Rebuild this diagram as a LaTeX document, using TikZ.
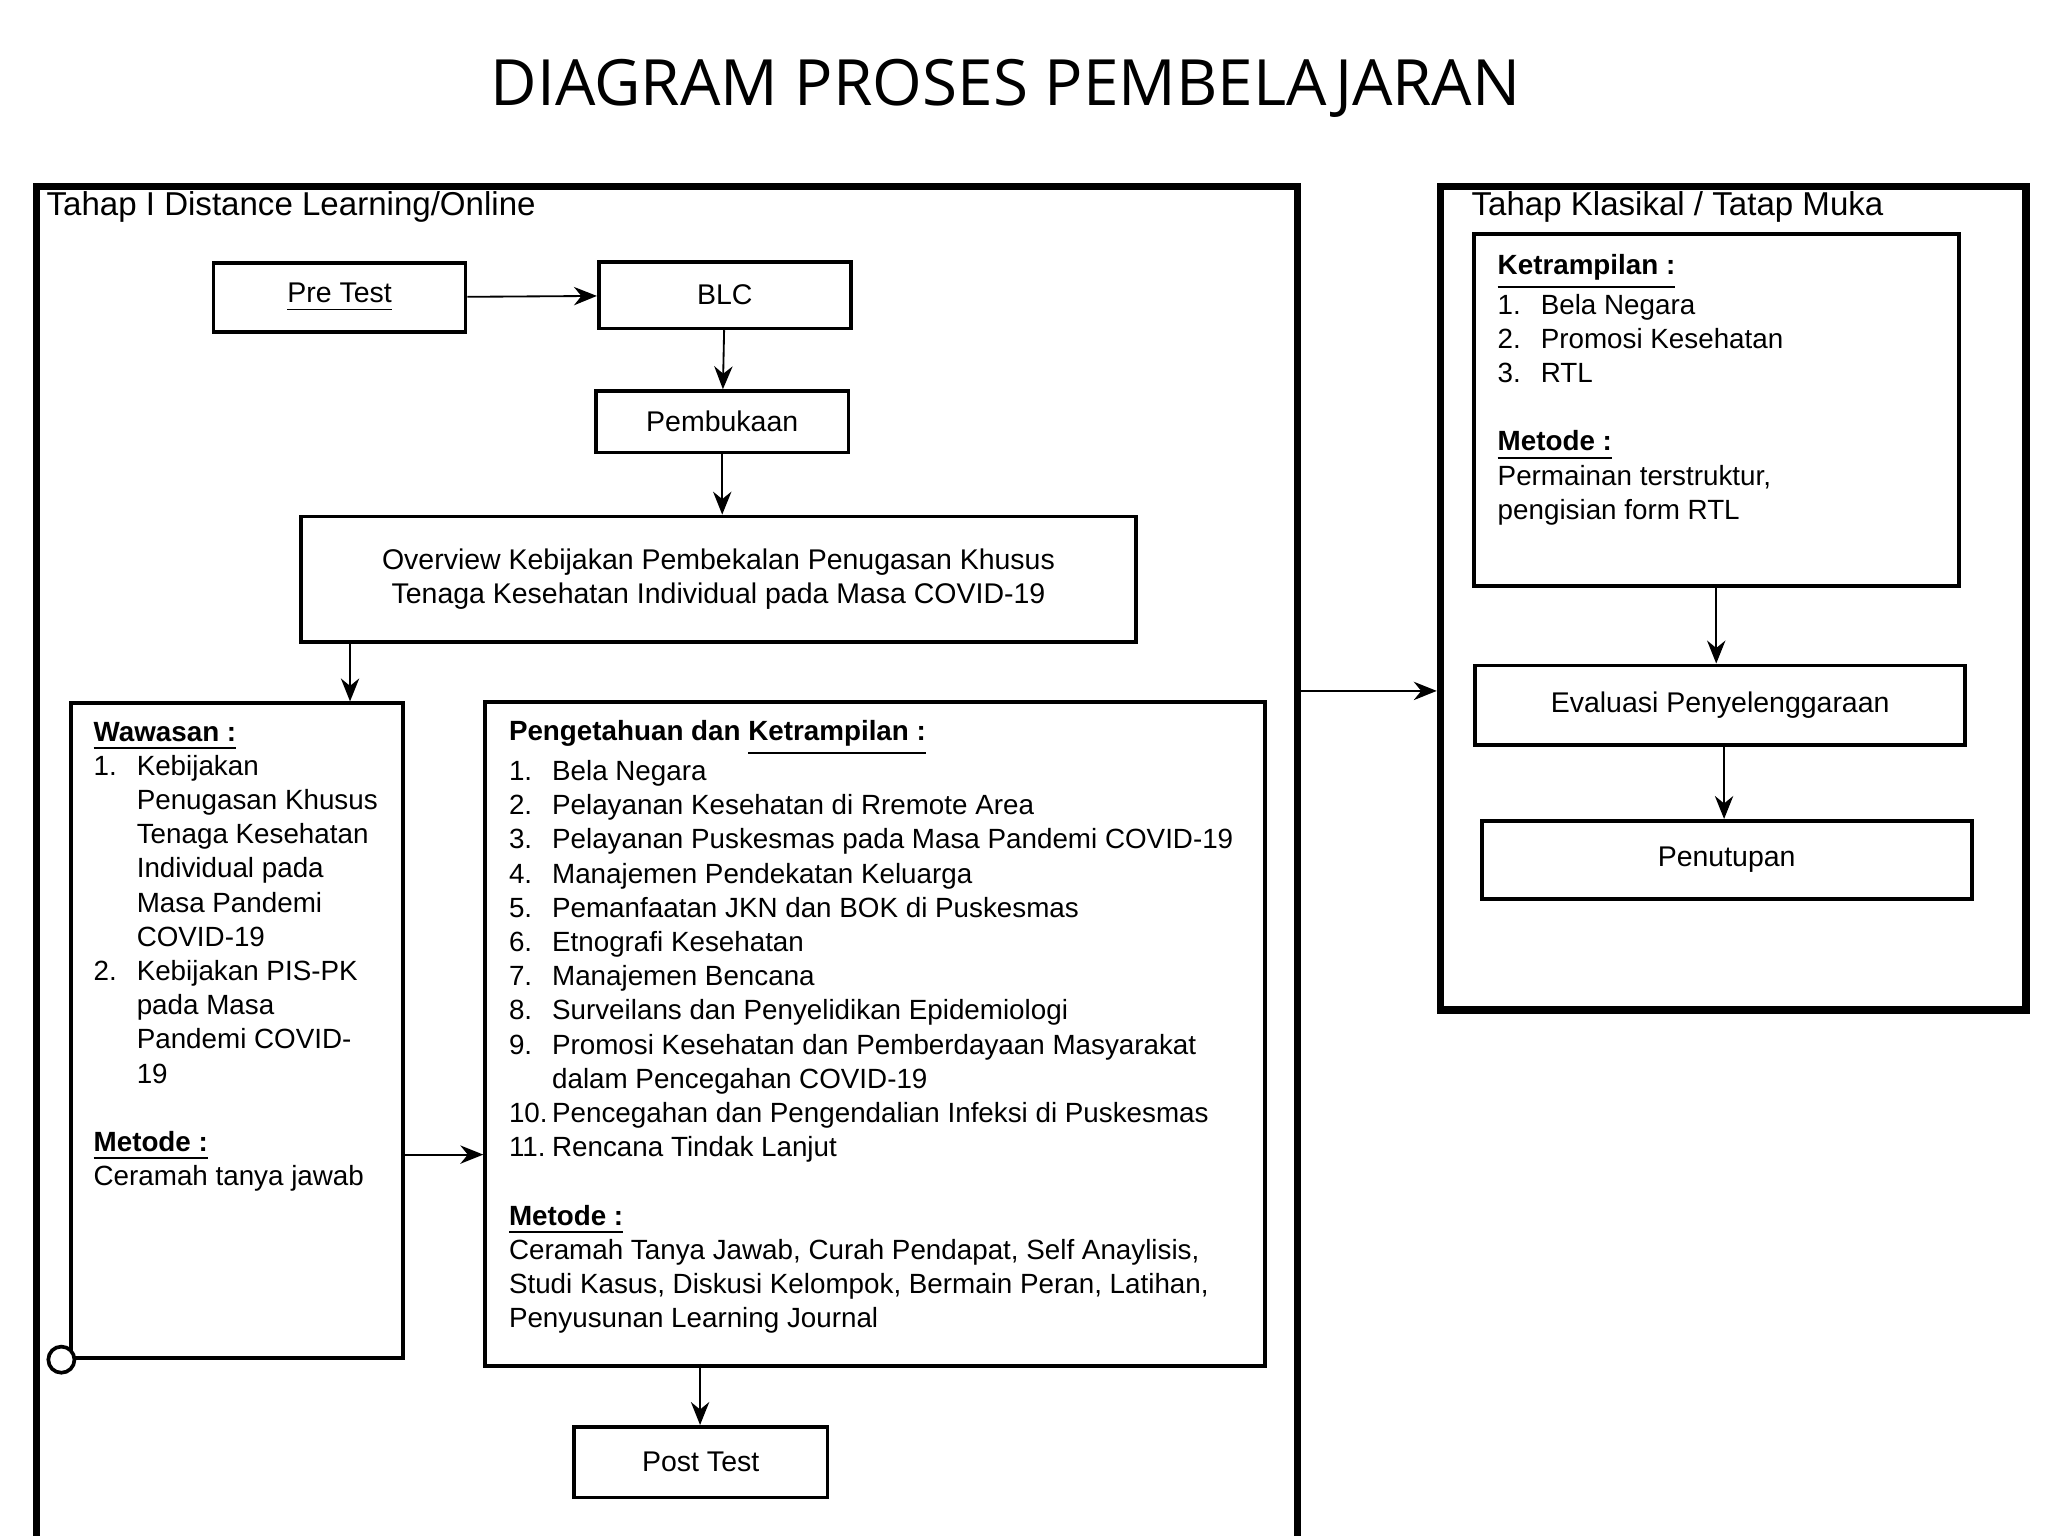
\documentclass[tikz,border=0pt]{standalone}
\usepackage{fontspec}
\setmainfont{Liberation Sans}
\newfontfamily\titlefont{Open Sans}
\usetikzlibrary{positioning, arrows.meta}
\tikzset{
	>={Stealth[length=5pt,width=4pt]}, % puntas de flecha
	box/.style={draw, thick, anchor=north west, inner sep=0pt},
	frame/.style={draw, line width=1.6pt, anchor=north west, inner sep=0pt},
	txt/.style={anchor=north west, align=left, inner sep=0pt, font=\fontsize{6.05}{7.45}\selectfont},
	lbl/.style={font=\fontsize{6.2}{7.45}\selectfont}
}
\newcommand{\itm}[1]{\makebox[0.33cm][l]{#1}}
\newcommand{\ind}{\hspace*{0.33cm}}
\begin{document}
\begin{tikzpicture}[x=0.01cm, y=-0.01cm]
	\useasboundingbox (0,0) rectangle (1568,1176);
	\node[font=\titlefont\fontsize{13.9}{16}\selectfont] (title) at (770,68) {DIAGRAM PROSES PEMBELAJARAN};
	% tahap online
	\node[frame, minimum width=9.65cm, minimum height=10.6cm] (online) at (25,140) {};
	\node[txt, font=\fontsize{7.2}{9}\selectfont] (tonline) at (35,146) {Tahap I Distance Learning/Online};
	\node[box, lbl, minimum width=1.93cm, minimum height=0.53cm] (pre) at (162,200) {\underline{Pre Test}};
	\node[box, lbl, minimum width=1.93cm, minimum height=0.51cm] (blc) at (457,199) {BLC};
	\node[box, lbl, minimum width=1.93cm, minimum height=0.47cm] (buka) at (455,298) {Pembukaan};
	\node[box, lbl, align=center, minimum width=6.39cm, minimum height=0.96cm] (over) at (229,394) {Overview Kebijakan Pembekalan Penugasan Khusus\\Tenaga Kesehatan Individual pada Masa COVID-19};
	\node[box, minimum width=2.54cm, minimum height=5.01cm] (wawasan) at (53,537) {};
	\node[txt] (twawasan) at (71,552) {\underline{\textbf{Wawasan :}}\\
		\itm{1.}Kebijakan\\ \ind Penugasan Khusus\\ \ind Tenaga Kesehatan\\ \ind Individual pada\\ \ind Masa Pandemi\\ \ind COVID-19\\
		\itm{2.}Kebijakan PIS-PK\\ \ind pada Masa\\ \ind Pandemi COVID-\\ \ind 19\\[7.45pt]
		\underline{\textbf{Metode :}}\\ Ceramah tanya jawab};
	\node[box, minimum width=5.97cm, minimum height=5.08cm] (tahu) at (370,536) {};
	\node[txt] (ttahu) at (389,551) {\textbf{Pengetahuan dan \underline{Ketrampilan :}}\\
		\itm{1.}Bela Negara\\
		\itm{2.}Pelayanan Kesehatan di Rremote Area\\
		\itm{3.}Pelayanan Puskesmas pada Masa Pandemi COVID-19\\
		\itm{4.}Manajemen Pendekatan Keluarga\\
		\itm{5.}Pemanfaatan JKN dan BOK di Puskesmas\\
		\itm{6.}Etnografi Kesehatan\\
		\itm{7.}Manajemen Bencana\\
		\itm{8.}Surveilans dan Penyelidikan Epidemiologi\\
		\itm{9.}Promosi Kesehatan dan Pemberdayaan Masyarakat\\
		\ind dalam Pencegahan COVID-19\\
		\itm{10.}Pencegahan dan Pengendalian Infeksi di Puskesmas\\
		\itm{11.}Rencana Tindak Lanjut\\[7.45pt]
		\underline{\textbf{Metode :}}\\
		Ceramah Tanya Jawab, Curah Pendapat, Self Anaylisis,\\
		Studi Kasus, Diskusi Kelompok, Bermain Peran, Latihan,\\
		Penyusunan Learning Journal};
	\node[box, lbl, minimum width=1.94cm, minimum height=0.54cm] (post) at (438,1091) {Post Test};
	\node[draw, thick, circle, minimum size=0.2cm, inner sep=0pt, fill=white] (dot) at (47,1041) {};
	% tahap klasikal
	\node[frame, minimum width=4.48cm, minimum height=6.3cm] (klasik) at (1100,140) {};
	\node[txt, font=\fontsize{7.2}{9}\selectfont] (tklasik) at (1126,146) {Tahap Klasikal / Tatap Muka};
	\node[box, minimum width=3.71cm, minimum height=2.69cm] (ketr) at (1127,178) {};
	\node[txt] (tketr) at (1146,194) {\underline{\textbf{Ketrampilan :}}\\
		\itm{1.}Bela Negara\\ \itm{2.}Promosi Kesehatan\\ \itm{3.}RTL\\[7.45pt]
		\underline{\textbf{Metode :}}\\ Permainan terstruktur,\\ pengisian form RTL};
	\node[box, lbl, minimum width=3.75cm, minimum height=0.61cm] (eval) at (1128,508) {Evaluasi Penyelenggaraan};
	\node[box, lbl, minimum width=3.75cm, minimum height=0.6cm] (tutup) at (1133,627) {Penutupan};
	% flechas
	\draw[->] (pre) -- (blc);
	\draw[->] (blc) -- (buka);
	\draw[->] (buka.south) -- (buka.south |- over.north);
	\draw[->] (over.south -| 268,0) coordinate (ow) -- (ow |- wawasan.north);
	\draw[->] (wawasan.east |- 0,884) coordinate (wt) -- (wt -| tahu.west);
	\draw[->] (post.north -| 536,0) ++(0,-47) coordinate (tp) -- (tp |- post.north);
	\draw[->] (online.east |- 0,529) coordinate (ok) -- (ok -| klasik.west);
	\draw[->] (ketr.south -| 1314,0) coordinate (ke) -- (ke |- eval.north);
	\draw[->] (eval.south -| 1320,0) coordinate (et) -- (et |- tutup.north);
\end{tikzpicture}
\end{document}
